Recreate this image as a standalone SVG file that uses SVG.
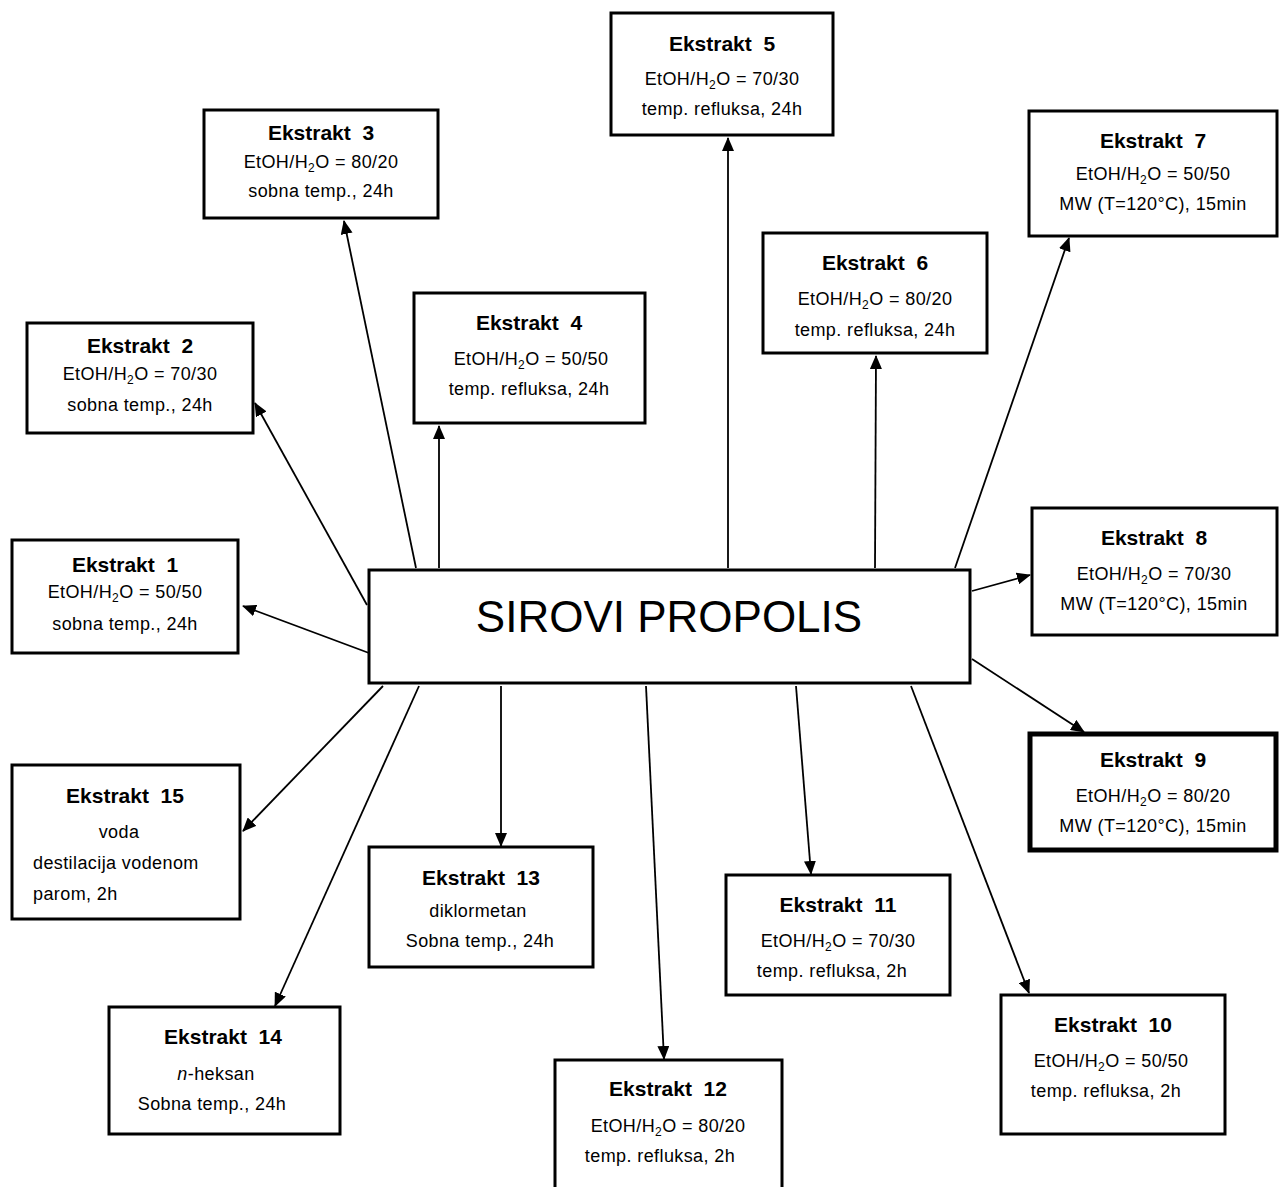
<svg xmlns="http://www.w3.org/2000/svg" width="1288" height="1187" viewBox="0 0 1288 1187">
<style>
.box{fill:#fff;stroke:#000;stroke-width:3}
.thick{stroke-width:5}
text{font-family:"Liberation Sans",Arial,sans-serif;fill:#000;text-anchor:middle}
.t{font-size:21px;font-weight:bold}
.s{font-size:18px;letter-spacing:0.4px}
.main{font-size:44px}
.l{text-anchor:start}
.c{stroke:#000;stroke-width:1.8;fill:none;marker-end:url(#ah)}
</style>
<defs>
<marker id="ah" markerUnits="userSpaceOnUse" markerWidth="14" markerHeight="12" viewBox="0 0 14 12" refX="13" refY="6" orient="auto">
<path d="M0,0 L14,6 L0,12 Z" fill="#000"/>
</marker>
</defs>
<rect width="1288" height="1187" fill="#fff"/>
<g id="connectors">
<line class="c" x1="369" y1="653" x2="243" y2="606"/>
<line class="c" x1="367" y1="605" x2="255" y2="403"/>
<line class="c" x1="416" y1="568" x2="344" y2="221"/>
<line class="c" x1="439" y1="568" x2="439" y2="426"/>
<line class="c" x1="728" y1="568" x2="728" y2="138"/>
<line class="c" x1="875" y1="568" x2="876" y2="356"/>
<line class="c" x1="955" y1="568" x2="1069" y2="238"/>
<line class="c" x1="972" y1="591" x2="1030" y2="575"/>
<line class="c" x1="972" y1="659" x2="1084" y2="732"/>
<line class="c" x1="911" y1="686" x2="1029" y2="993"/>
<line class="c" x1="796" y1="686" x2="811" y2="874"/>
<line class="c" x1="646" y1="686" x2="664" y2="1059"/>
<line class="c" x1="501" y1="686" x2="501" y2="846"/>
<line class="c" x1="419" y1="686" x2="275" y2="1006"/>
<line class="c" x1="383" y1="686" x2="243" y2="831"/>
</g>
<g id="center">
<rect class="box" x="369" y="570" width="601" height="113"/>
<text class="main" x="669" y="632">SIROVI PROPOLIS</text>
</g>
<g id="e1">
<rect class="box" x="12" y="540" width="226" height="113"/>
<text class="t" x="125" y="572">Ekstrakt&#160; 1</text>
<text class="s" x="125" y="598">EtOH/H<tspan font-size="12" dy="4">2</tspan><tspan dy="-4">O = 50/50</tspan></text>
<text class="s" x="125" y="630">sobna temp., 24h</text>
</g>
<g id="e2">
<rect class="box" x="27" y="323" width="226" height="110"/>
<text class="t" x="140" y="353">Ekstrakt&#160; 2</text>
<text class="s" x="140" y="380">EtOH/H<tspan font-size="12" dy="4">2</tspan><tspan dy="-4">O = 70/30</tspan></text>
<text class="s" x="140" y="411">sobna temp., 24h</text>
</g>
<g id="e3">
<rect class="box" x="204" y="110" width="234" height="108"/>
<text class="t" x="321" y="140">Ekstrakt&#160; 3</text>
<text class="s" x="321" y="168">EtOH/H<tspan font-size="12" dy="4">2</tspan><tspan dy="-4">O = 80/20</tspan></text>
<text class="s" x="321" y="197">sobna temp., 24h</text>
</g>
<g id="e4">
<rect class="box" x="414" y="293" width="231" height="130"/>
<text class="t" x="529" y="330">Ekstrakt&#160; 4</text>
<text class="s" x="531" y="365">EtOH/H<tspan font-size="12" dy="4">2</tspan><tspan dy="-4">O = 50/50</tspan></text>
<text class="s" x="529" y="395">temp. refluksa, 24h</text>
</g>
<g id="e5">
<rect class="box" x="611" y="13" width="222" height="122"/>
<text class="t" x="722" y="51">Ekstrakt&#160; 5</text>
<text class="s" x="722" y="85">EtOH/H<tspan font-size="12" dy="4">2</tspan><tspan dy="-4">O = 70/30</tspan></text>
<text class="s" x="722" y="115">temp. refluksa, 24h</text>
</g>
<g id="e6">
<rect class="box" x="763" y="233" width="224" height="120"/>
<text class="t" x="875" y="270">Ekstrakt&#160; 6</text>
<text class="s" x="875" y="305">EtOH/H<tspan font-size="12" dy="4">2</tspan><tspan dy="-4">O = 80/20</tspan></text>
<text class="s" x="875" y="336">temp. refluksa, 24h</text>
</g>
<g id="e7">
<rect class="box" x="1029" y="111" width="248" height="125"/>
<text class="t" x="1153" y="148">Ekstrakt&#160; 7</text>
<text class="s" x="1153" y="180">EtOH/H<tspan font-size="12" dy="4">2</tspan><tspan dy="-4">O = 50/50</tspan></text>
<text class="s" x="1153" y="210">MW (T=120°C), 15min</text>
</g>
<g id="e8">
<rect class="box" x="1032" y="508" width="245" height="127"/>
<text class="t" x="1154" y="545">Ekstrakt&#160; 8</text>
<text class="s" x="1154" y="580">EtOH/H<tspan font-size="12" dy="4">2</tspan><tspan dy="-4">O = 70/30</tspan></text>
<text class="s" x="1154" y="610">MW (T=120°C), 15min</text>
</g>
<g id="e9">
<rect class="box thick" x="1030" y="734" width="246" height="116"/>
<text class="t" x="1153" y="767">Ekstrakt&#160; 9</text>
<text class="s" x="1153" y="802">EtOH/H<tspan font-size="12" dy="4">2</tspan><tspan dy="-4">O = 80/20</tspan></text>
<text class="s" x="1153" y="832">MW (T=120°C), 15min</text>
</g>
<g id="e10">
<rect class="box" x="1001" y="995" width="224" height="139"/>
<text class="t" x="1113" y="1032">Ekstrakt&#160; 10</text>
<text class="s" x="1111" y="1067">EtOH/H<tspan font-size="12" dy="4">2</tspan><tspan dy="-4">O = 50/50</tspan></text>
<text class="s" x="1106" y="1097">temp. refluksa, 2h</text>
</g>
<g id="e11">
<rect class="box" x="726" y="875" width="224" height="120"/>
<text class="t" x="838" y="912">Ekstrakt&#160; 11</text>
<text class="s" x="838" y="947">EtOH/H<tspan font-size="12" dy="4">2</tspan><tspan dy="-4">O = 70/30</tspan></text>
<text class="s" x="832" y="977">temp. refluksa, 2h</text>
</g>
<g id="e12">
<rect class="box" x="555" y="1060" width="227" height="140"/>
<text class="t" x="668" y="1096">Ekstrakt&#160; 12</text>
<text class="s" x="668" y="1132">EtOH/H<tspan font-size="12" dy="4">2</tspan><tspan dy="-4">O = 80/20</tspan></text>
<text class="s" x="660" y="1162">temp. refluksa, 2h</text>
</g>
<g id="e13">
<rect class="box" x="369" y="847" width="224" height="120"/>
<text class="t" x="481" y="885">Ekstrakt&#160; 13</text>
<text class="s" x="478" y="917">diklormetan</text>
<text class="s" x="480" y="947">Sobna temp., 24h</text>
</g>
<g id="e14">
<rect class="box" x="109" y="1007" width="231" height="127"/>
<text class="t" x="223" y="1044">Ekstrakt&#160; 14</text>
<text class="s" x="216" y="1080"><tspan font-style="italic">n</tspan>-heksan</text>
<text class="s" x="212" y="1110">Sobna temp., 24h</text>
</g>
<g id="e15">
<rect class="box" x="12" y="765" width="228" height="154"/>
<text class="t" x="125" y="803">Ekstrakt&#160; 15</text>
<text class="s" x="119" y="838">voda</text>
<text class="s l" x="33" y="869">destilacija vodenom</text>
<text class="s l" x="33" y="900">parom, 2h</text>
</g>
</svg>
